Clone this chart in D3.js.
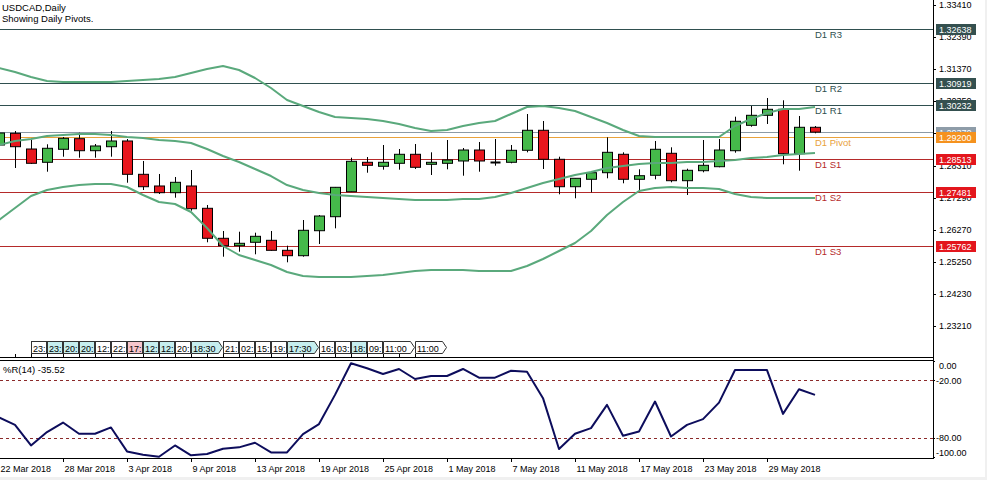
<!DOCTYPE html>
<html><head><meta charset="utf-8">
<script src="https://cdn.jsdelivr.net/npm/d3@7"></script>
<style>
body{margin:0;background:#fff;}
svg{display:block;}
text{font-family:"Liberation Sans",Arial,sans-serif;}
</style>
</head><body>
<svg id="c" width="987" height="480"></svg>
<script>
// ---------- DATA ----------
const symbolTitle = "USDCAD,Daily";
const subTitle = "Showing Daily Pivots.";
const dateLabels = ["22 Mar 2018","28 Mar 2018","3 Apr 2018","9 Apr 2018","13 Apr 2018","19 Apr 2018","25 Apr 2018","1 May 2018","7 May 2018","11 May 2018","17 May 2018","23 May 2018","29 May 2018"];
const dateIndex = [0,4,8,12,16,20,24,28,32,36,40,44,48];

const open  = [1.28961,1.29333,1.28834,1.28412,1.28825,1.29162,1.28780,1.28907,1.29089,1.28030,1.27659,1.27446,1.27659,1.26950,1.25997,1.25762,1.25870,1.25933,1.25615,1.25444,1.26238,1.26683,1.27477,1.28412,1.28285,1.28380,1.28666,1.28348,1.28380,1.28453,1.28802,1.28437,1.28412,1.28793,1.29429,1.28507,1.27636,1.27872,1.28081,1.28666,1.27872,1.27999,1.28698,1.27827,1.28145,1.28272,1.28780,1.29587,1.29905,1.30096,1.28685,1.29524];
const high  = [1.29502,1.29406,1.29120,1.28984,1.29216,1.29352,1.28993,1.29406,1.29152,1.28453,1.28040,1.27945,1.28167,1.27055,1.26229,1.26206,1.26175,1.26229,1.25762,1.26578,1.26737,1.27627,1.28558,1.28580,1.28961,1.28834,1.28993,1.28729,1.29120,1.28866,1.29057,1.29152,1.28961,1.29946,1.29724,1.28590,1.27903,1.28081,1.29206,1.28729,1.28189,1.29089,1.28888,1.28208,1.29120,1.29152,1.29861,1.30201,1.30455,1.30382,1.29883,1.29565];
const low   = [1.28930,1.28231,1.28358,1.28113,1.28590,1.28558,1.28558,1.28590,1.27763,1.27531,1.27404,1.27287,1.26874,1.25870,1.25412,1.25571,1.25488,1.25600,1.25234,1.25412,1.25816,1.26314,1.27477,1.28081,1.28177,1.28177,1.28199,1.28008,1.28189,1.27986,1.28113,1.28304,1.28380,1.28729,1.28199,1.27395,1.27268,1.27458,1.27903,1.27744,1.27477,1.27872,1.27776,1.27373,1.28094,1.28253,1.28717,1.29543,1.29629,1.28348,1.28145,1.29333];
const close = [1.29343,1.28907,1.28380,1.28857,1.29174,1.28780,1.28930,1.29089,1.28030,1.27636,1.27446,1.27776,1.26937,1.25997,1.25762,1.25838,1.26060,1.25615,1.25444,1.26251,1.26705,1.27617,1.28443,1.28316,1.28412,1.28666,1.28253,1.28412,1.28485,1.28802,1.28453,1.28437,1.28793,1.29429,1.28507,1.27636,1.27903,1.28081,1.28729,1.27872,1.27986,1.28825,1.27827,1.28157,1.28316,1.28802,1.29715,1.29905,1.30096,1.28685,1.29524,1.29370];

const bbUpper  = [1.31408,1.31281,1.31122,1.30995,1.30963,1.30963,1.30963,1.30963,1.30995,1.31027,1.31058,1.31122,1.31249,1.31376,1.31472,1.31345,1.31090,1.30773,1.30391,1.30201,1.30010,1.29851,1.29819,1.29788,1.29724,1.29629,1.29502,1.29406,1.29438,1.29565,1.29660,1.29724,1.29946,1.30169,1.30201,1.30137,1.30042,1.29851,1.29660,1.29438,1.29247,1.29216,1.29216,1.29216,1.29216,1.29216,1.29565,1.29788,1.29978,1.30105,1.30105,1.30169];
const bbMiddle = [1.28961,1.29089,1.29152,1.29247,1.29279,1.29311,1.29311,1.29279,1.29216,1.29184,1.29120,1.29089,1.29025,1.28834,1.28612,1.28421,1.28199,1.27976,1.27690,1.27531,1.27436,1.27373,1.27341,1.27309,1.27277,1.27245,1.27214,1.27214,1.27214,1.27245,1.27245,1.27309,1.27436,1.27595,1.27754,1.27881,1.28008,1.28103,1.28231,1.28294,1.28358,1.28389,1.28389,1.28421,1.28421,1.28453,1.28485,1.28548,1.28580,1.28644,1.28675,1.28707];
const bbLower  = [1.26578,1.26960,1.27341,1.27531,1.27627,1.27690,1.27722,1.27722,1.27627,1.27373,1.27150,1.27087,1.26832,1.26324,1.25752,1.25466,1.25307,1.25148,1.24926,1.24799,1.24767,1.24767,1.24767,1.24799,1.24830,1.24894,1.24958,1.24989,1.24989,1.24989,1.24958,1.24958,1.24958,1.25117,1.25339,1.25593,1.25847,1.26229,1.26737,1.27150,1.27500,1.27595,1.27627,1.27595,1.27595,1.27563,1.27404,1.27309,1.27277,1.27277,1.27277,1.27277];

const wpr = [-59.0,-66.6,-88.0,-74.1,-64.2,-75.9,-75.9,-69.3,-94.2,-97.6,-99.7,-88.0,-98.3,-96.9,-91.4,-90.0,-85.2,-95.2,-95.2,-76.2,-65.8,-35.5,-2.7,-7.9,-13.8,-8.6,-19.0,-15.9,-15.9,-8.6,-17.6,-17.6,-10.4,-11.4,-38.9,-91.7,-75.9,-70.0,-45.9,-77.9,-73.5,-42.4,-78.7,-66.6,-60.7,-43.5,-9.7,-9.7,-9.7,-55.2,-29.6,-35.52];
const wprLabel = "%R(14) -35.52";
const wprTicks = [0,-20,-80,-100];
const wprLevels = [-20,-80];

const pivotNames  = ["D1 R3","D1 R2","D1 R1","D1 Pivot","D1 S1","D1 S2","D1 S3"];
const pivotValues = [1.32638,1.30919,1.30232,1.29200,1.28513,1.27481,1.25762];
const pivotKind   = ["R","R","R","P","S","S","S"];
const bidPrice = 1.29370;
const priceTicks = [1.33410,1.32390,1.31370,1.30350,1.29330,1.28310,1.27290,1.26270,1.25250,1.24230,1.23210];

const eventIndex = [2,3,4,5,6,7,8,9,10,11,12,14,15,16,17,18,20,21,22,23,24,26];
const eventText  = ["23:","23:","20:","20:","12:","22:","17:","12:","12:","20:","18:30","21:","02:","15:","19:","17:30","16:","03:","18:","09:","11:00","11:00"];
const eventKind  = ["w","c","c","c","w","w","p","c","c","w","c","w","w","w","w","c","w","w","c","w","w","w"];

// ---------- STYLES ----------
const W = 987, H = 480, axisX = 933;
const col = {R:"#2f4f4f", P:"#e9a23b", S:"#b52a2a", Rbox:"#34504f", Pbox:"#f5921e", Sbox:"#e3161d",
             bid:"#8c9aa6", bidBox:"#8e9ca8", green:"#45b94a", red:"#e8161d", band:"#5aa97c", wpr:"#0d0d5c", lvl:"#8b2a2a"};
const evFill = {w:"#ffffff", c:"#c6eeee", p:"#f7c6cc"};

const svg = d3.select("#c");
svg.append("rect").attr("width",W).attr("height",H).attr("fill","#fff");

const x = d3.scaleLinear().domain([0,51]).range([-1,815]);
const y = d3.scaleLinear().domain([1.23210,1.33410]).range([326,5]);
const yw = d3.scaleLinear().domain([-100,0]).range([457,360.7]);

svg.append("clipPath").attr("id","mclip").append("rect").attr("x",0).attr("y",0).attr("width",axisX).attr("height",357);
svg.append("clipPath").attr("id","wclip").append("rect").attr("x",0).attr("y",361).attr("width",axisX).attr("height",97);
const main = svg.append("g").attr("clip-path","url(#mclip)");

// pivot lines
pivotValues.forEach((v,i)=>{
  const yy = Math.round(y(v))+0.5;
  main.append("line").attr("x1",0).attr("x2",axisX).attr("y1",yy).attr("y2",yy)
    .attr("stroke",col[pivotKind[i]]).attr("stroke-width",1);
});
{
  const yy = Math.round(y(bidPrice))+0.5;
  main.append("line").attr("x1",0).attr("x2",axisX).attr("y1",yy).attr("y2",yy).attr("stroke",col.bid).attr("stroke-width",1);
}

// candles
const idx = d3.range(open.length);
idx.forEach(i=>{
  const cx = Math.round(x(i))+0.5;
  main.append("line").attr("x1",cx).attr("x2",cx).attr("y1",y(high[i])).attr("y2",y(low[i])).attr("stroke","#000").attr("stroke-width",1);
  if (open[i]===close[i]) {
    main.append("line").attr("x1",cx-5).attr("x2",cx+5).attr("y1",Math.round(y(open[i]))+0.5).attr("y2",Math.round(y(open[i]))+0.5).attr("stroke","#000").attr("stroke-width",2);
  } else {
    const top = y(Math.max(open[i],close[i])), bot = y(Math.min(open[i],close[i]));
    main.append("rect").attr("x",cx-5).attr("width",10).attr("y",top).attr("height",Math.max(bot-top,1.5))
      .attr("fill", close[i]>open[i]?col.green:col.red).attr("stroke","#000").attr("stroke-width",1);
  }
});

// bollinger bands
[bbUpper,bbMiddle,bbLower].forEach(arr=>{
  main.append("path").datum(arr).attr("fill","none").attr("stroke",col.band).attr("stroke-width",2)
    .attr("stroke-linejoin","round")
    .attr("d", d3.line().x((d,i)=>x(i)).y(d=>y(d)));
});

// pivot text labels
pivotValues.forEach((v,i)=>{
  svg.append("text").attr("x",815).attr("y",y(v)+9).attr("font-size",9.5).attr("fill",col[pivotKind[i]]).text(pivotNames[i]);
});

// title
svg.append("text").attr("x",2).attr("y",11).attr("font-size",9.5).attr("fill","#000").text(symbolTitle);
svg.append("text").attr("x",2).attr("y",21.5).attr("font-size",9.5).attr("fill","#000").text(subTitle);

// event markers
eventIndex.forEach((k,j)=>{
  const x0 = Math.round(x(k))+0.5;
  const t = eventText[j];
  const long = t.length>3;
  const w = long ? 27 : 15;
  const g = svg.append("g");
  if (long) {
    g.append("path").attr("d",`M${x0},341.5 H${x0+w} L${x0+w+4},347.5 L${x0+w},353.5 H${x0} Z`)
      .attr("fill",evFill[eventKind[j]]).attr("stroke","#333").attr("stroke-width",1);
  } else {
    g.append("rect").attr("x",x0).attr("y",341.5).attr("width",w).attr("height",12)
      .attr("fill",evFill[eventKind[j]]).attr("stroke","#333").attr("stroke-width",1);
  }
  g.append("text").attr("x",x0+1.5).attr("y",351.5).attr("font-size",9).attr("fill","#000").text(t);
});
d3.range(1,27).forEach(k=>{
  const xx = Math.round(x(k))+0.5;
  svg.append("line").attr("x1",xx).attr("x2",xx).attr("y1",354).attr("y2",357.5).attr("stroke","#000").attr("stroke-width",1);
});

// panel borders
svg.append("line").attr("x1",0).attr("x2",axisX).attr("y1",357.5).attr("y2",357.5).attr("stroke","#000");
svg.append("line").attr("x1",0).attr("x2",axisX).attr("y1",360.5).attr("y2",360.5).attr("stroke","#000");
svg.append("line").attr("x1",0).attr("x2",axisX+1).attr("y1",458.5).attr("y2",458.5).attr("stroke","#000");
svg.append("line").attr("x1",axisX+0.5).attr("x2",axisX+0.5).attr("y1",0).attr("y2",459).attr("stroke","#000");

// %R panel
const wg = svg.append("g").attr("clip-path","url(#wclip)");
wprLevels.forEach(l=>{
  const yy = Math.round(yw(l))+0.5;
  wg.append("line").attr("x1",0).attr("x2",axisX).attr("y1",yy).attr("y2",yy).attr("stroke",col.lvl).attr("stroke-width",1).attr("stroke-dasharray","3,3");
});
wg.append("path").datum(wpr).attr("fill","none").attr("stroke",col.wpr).attr("stroke-width",2).attr("stroke-linejoin","round")
  .attr("d", d3.line().x((d,i)=>x(i)).y(d=>yw(d)));
svg.append("text").attr("x",3).attr("y",373).attr("font-size",9.5).attr("fill","#000").text(wprLabel);

// %R axis
const wLabelY = {"0":366, "-20":381, "-80":438, "-100":453};
wprTicks.forEach(t=>{
  const ty = Math.round(yw(t))+0.5;
  svg.append("line").attr("x1",axisX).attr("x2",axisX+2).attr("y1",ty).attr("y2",ty).attr("stroke","#000");
  svg.append("text").attr("x", t===0?939:936).attr("y",wLabelY[String(t)]).attr("dy","0.35em").attr("font-size",9).attr("fill","#000")
    .text(t.toFixed(2));
});

// price axis
priceTicks.forEach(t=>{
  const ty = Math.round(y(t))+0.5;
  svg.append("line").attr("x1",axisX).attr("x2",axisX+3).attr("y1",ty).attr("y2",ty).attr("stroke","#000");
  svg.append("text").attr("x",939).attr("y",y(t)).attr("dy","0.35em").attr("font-size",9).attr("fill","#000").text(t.toFixed(5));
});
// price boxes
function priceBox(v, fill){
  const yy = Math.round(y(v));
  svg.append("rect").attr("x",936).attr("y",yy-5).attr("width",40).attr("height",11).attr("fill",fill);
  svg.append("text").attr("x",939).attr("y",yy+0.5).attr("dy","0.35em").attr("font-size",9).attr("fill","#fff").text(v.toFixed(5));
}
pivotValues.forEach((v,i)=>{ if(pivotKind[i]!=="P") priceBox(v, col[pivotKind[i]+"box"]); });
priceBox(bidPrice, col.bidBox);
priceBox(pivotValues[3], col.Pbox);

// date axis
dateIndex.forEach((k,j)=>{
  const xx = Math.round(x(k))+0.5;
  svg.append("line").attr("x1",xx).attr("x2",xx).attr("y1",458).attr("y2",462).attr("stroke","#000");
  svg.append("text").attr("x",Math.max(xx+1,0)).attr("y",472).attr("font-size",9).attr("fill","#000").text(dateLabels[j]);
});
svg.append("rect").attr("x",0).attr("y",477).attr("width",W).attr("height",3).attr("fill","#f0f0f0");
svg.append("rect").attr("x",985).attr("y",0).attr("width",2).attr("height",H).attr("fill","#f0f0f0");
</script>
</body></html>
